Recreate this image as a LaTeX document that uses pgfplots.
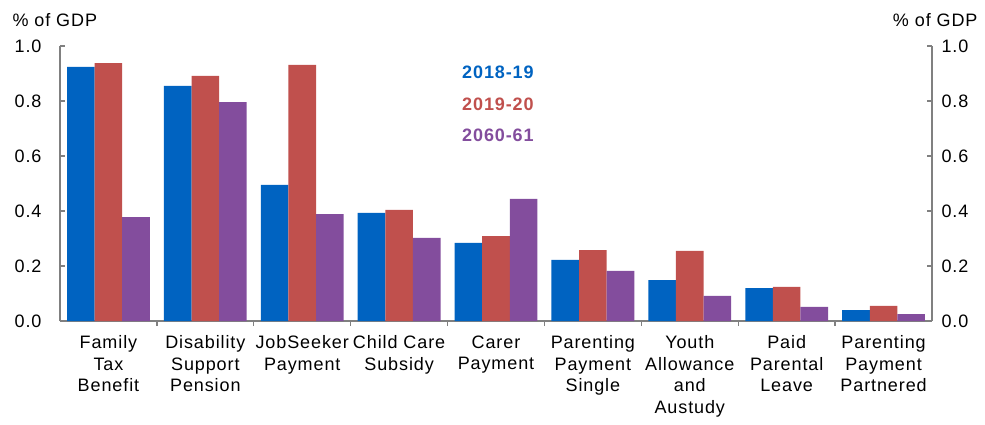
\documentclass[border=0pt]{standalone}
\usepackage{fontspec}
\setmainfont[LetterSpace=5]{Liberation Sans}
\usepackage{pgfplots}
\pgfplotsset{compat=1.18}
\definecolor{cblue}{RGB}{0,99,193}
\definecolor{cred}{RGB}{192,80,77}
\definecolor{cpurple}{RGB}{131,77,157}
\definecolor{axgray}{RGB}{128,128,128}
\newcommand{\chartfont}{\fontsize{18}{21.7}\selectfont}
\begin{document}
\begin{tikzpicture}
\useasboundingbox (0,0) rectangle (985pt,-425pt);
\pgfplotsset{
  common/.style={
    at={(60pt,-321pt)}, anchor=south west,
    scale only axis, width=872pt, height=275pt,
    xmin=-0.5, xmax=8.5, ymin=0, ymax=1,
    axis line style={axgray, line width=1.4pt},
    tick style={axgray, line width=1.4pt},
    tick align=inside,
    major tick length=5pt, minor tick length=5pt,
    ytick={0,0.2,0.4,0.6,0.8,1},
    yticklabel style={font=\chartfont, /pgf/number format/fixed, /pgf/number format/fixed zerofill, /pgf/number format/precision=1, /pgf/number format/assume math mode=true},
  }
}
\begin{axis}[common,
  axis x line*=bottom, axis y line*=left,
  yticklabel style={xshift=-15pt},
  xtick={0,1,2,3,4,5,6,7,8},
  major x tick style={draw=none},
  minor xtick={0.5,1.5,2.5,3.5,4.5,5.5,6.5,7.5},
  xticklabels={{Family\\Tax\\Benefit},{Disability\\Support\\Pension},{JobSeeker\\Payment},{Child Care\\Subsidy},{Carer\\Payment},{Parenting\\Payment\\Single},{Youth\\Allowance\\and\\Austudy},{Paid\\Parental\\Leave},{Parenting\\Payment\\Partnered}},
  xticklabel style={font=\chartfont, align=center, yshift=-6pt},
  ybar=0pt, bar width=27.6pt,
]
\addplot[fill=cblue, draw=none] coordinates {(0,0.924) (1,0.855) (2,0.495) (3,0.393) (4,0.284) (5,0.222) (6,0.149) (7,0.120) (8,0.040)};
\addplot[fill=cred, draw=none] coordinates {(0,0.938) (1,0.891) (2,0.931) (3,0.404) (4,0.309) (5,0.258) (6,0.255) (7,0.124) (8,0.055)};
\addplot[fill=cpurple, draw=none] coordinates {(0,0.378) (1,0.796) (2,0.389) (3,0.302) (4,0.444) (5,0.182) (6,0.091) (7,0.051) (8,0.025)};
\node[font=\chartfont\bfseries, text=cblue] at (axis cs:4.02,0.905) {2018-19};
\node[font=\chartfont\bfseries, text=cred] at (axis cs:4.02,0.789) {2019-20};
\node[font=\chartfont\bfseries, text=cpurple] at (axis cs:4.02,0.674) {2060-61};
\end{axis}
\begin{axis}[common,
  hide x axis, axis y line*=right,
  yticklabel style={xshift=6pt},
]
\end{axis}
\node[font=\chartfont, anchor=west] at (9pt,-20pt) {\% of GDP};
\node[font=\chartfont, anchor=east] at (981pt,-20pt) {\% of GDP};
\end{tikzpicture}
\end{document}
